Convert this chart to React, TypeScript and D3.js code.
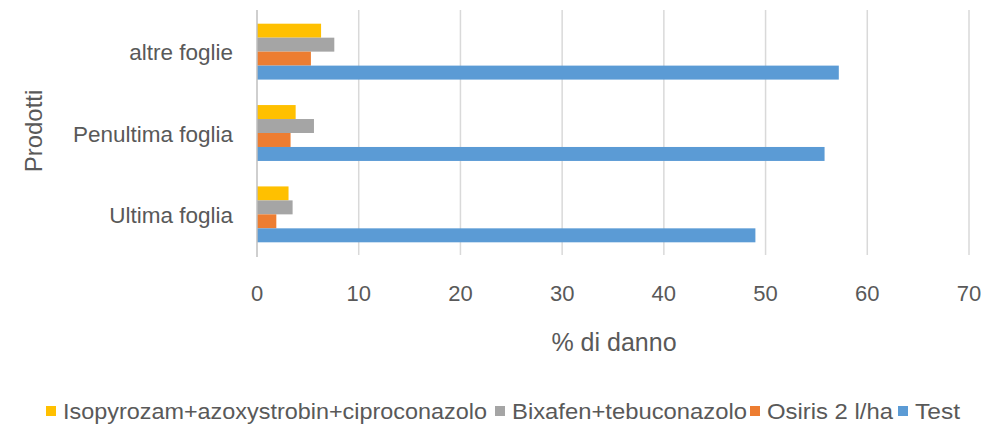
import React from "react";
import * as d3 from "d3";

const categories = ["altre foglie", "Penultima foglia", "Ultima foglia"];
const seriesNames = [
  "Isopyrozam+azoxystrobin+ciproconazolo",
  "Bixafen+tebuconazolo",
  "Osiris 2 l/ha",
  "Test",
];
const isopyrozam = [6.3, 3.8, 3.1];
const bixafen = [7.6, 5.6, 3.5];
const osiris = [5.3, 3.3, 1.9];
const test = [57.2, 55.8, 49.0];
const xTicks = [0, 10, 20, 30, 40, 50, 60, 70];
const colors = ["#FFC000", "#A5A5A5", "#ED7D31", "#5B9BD5"];

const W = 995;
const H = 428;
const font = "'Liberation Sans', Arial, sans-serif";
const textColor = "#595959";

export default function App() {
  const series = [isopyrozam, bixafen, osiris, test];
  const x = d3.scaleLinear().domain([0, 70]).range([257, 969]);
  const y = d3.scaleBand<string>().domain(categories).range([11, 255]).paddingInner(0.313).paddingOuter(0.156);
  const inner = d3.scaleBand<string>().domain(seriesNames).range([0, y.bandwidth()]).padding(0);

  const legendX = [46, 495, 750, 898];
  const legendW = [424, 235, 126, 45];

  return (
    <svg width={W} height={H} style={{ position: "absolute", left: 0, top: 0, background: "#fff" }} fontFamily={font}>
      <rect x={0} y={0} width={W} height={H} fill="#fff" />
      {xTicks.slice(1).map((t) => (
        <line key={t} x1={x(t)} x2={x(t)} y1={10} y2={255} stroke="#D9D9D9" strokeWidth={1.5} />
      ))}
      {categories.map((c, ci) =>
        series.map((s, si) => (
          <rect
            key={c + si}
            x={x(0)}
            y={(y(c) as number) + (inner(seriesNames[si]) as number)}
            width={x(s[ci]) - x(0)}
            height={inner.bandwidth()}
            fill={colors[si]}
          />
        ))
      )}
      <line x1={x(0)} x2={x(0)} y1={10} y2={257} stroke="#BFBFBF" strokeWidth={1.5} />
      {xTicks.map((t) => (
        <text key={t} x={x(t)} y={301} textAnchor="middle" fontSize={22} fill={textColor}>
          {t}
        </text>
      ))}
      {categories.map((c) => (
        <text key={c} x={233} y={(y(c) as number) + y.bandwidth() / 2 + 8.5} textAnchor="end" fontSize={22.5} fill={textColor}>
          {c}
        </text>
      ))}
      <text x={614} y={351} textAnchor="middle" fontSize={25} fill={textColor}>
        % di danno
      </text>
      <text transform="translate(42,131) rotate(-90)" textAnchor="middle" fontSize={24} fill={textColor}>
        Prodotti
      </text>
      {seriesNames.map((n, i) => (
        <g key={n}>
          <rect x={legendX[i]} y={406} width={10} height={10} fill={colors[i]} />
          <text x={legendX[i] + 17} y={419} fontSize={22.5} fill={textColor} textLength={legendW[i]} lengthAdjust="spacingAndGlyphs">
            {n}
          </text>
        </g>
      ))}
    </svg>
  );
}
